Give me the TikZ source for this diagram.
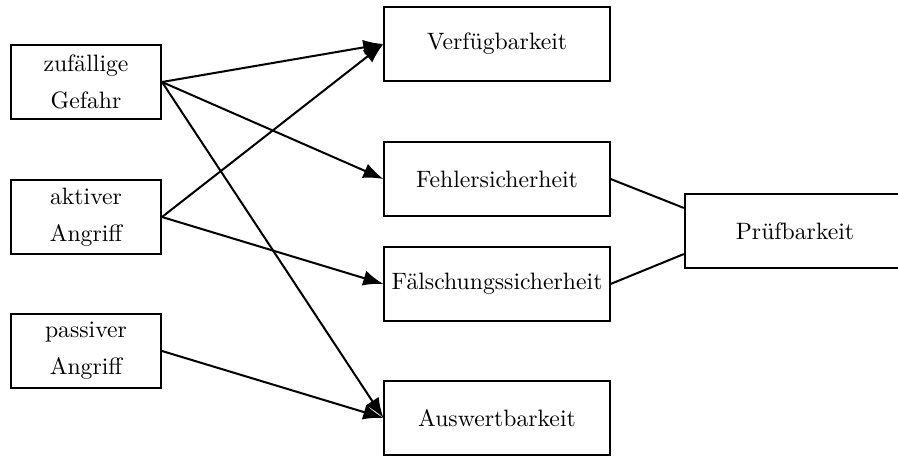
\documentclass[tikz,border=0pt]{standalone}
\usetikzlibrary{arrows.meta,calc}
\begin{document}
\begin{tikzpicture}[x=0.422pt,y=-0.422pt,
  box/.style={draw,line width=0.85pt,minimum width=63.3pt,minimum height=31.6pt,
    inner sep=0pt,align=center},
  wide/.style={box,minimum width=95pt},
  link/.style={line width=0.85pt},
  arr/.style={link,-{Latex[length=8.5pt,width=6.5pt]}}]
\clip (0,0) rectangle (898,456);
% sources
\node[box] (zg) at (86,82) {zuf\"allige\\[3.6pt]Gefahr};
\node[box] (aa) at (86,217) {aktiver\\[3.6pt]Angriff};
\node[box] (pa) at (86,351) {passiver\\[3.6pt]Angriff};
% properties
\node[wide] (vb) at (497,44) {Verf\"ugbarkeit};
\node[wide] (fs) at (497,179) {Fehlersicherheit};
\node[wide] (fa) at (497,284) {F\"alschungssicherheit};
\node[wide] (ab) at (497,418) {Auswertbarkeit};
\node[wide,minimum width=93pt] (pb) at (795,231) {Pr\"ufbarkeit};
% threats to properties
\draw[arr] (zg.east) -- (vb.west);
\draw[arr] (zg.east) -- (fs.west);
\draw[arr] (zg.east) -- (ab.west);
\draw[arr] (aa.east) -- (vb.west);
\draw[arr] (aa.east) -- (fa.west);
\draw[arr] (pa.east) -- (ab.west);
% properties feeding into auditability
\draw[link] (fs.east) -- ($(pb.north west)!0.2!(pb.south west)$);
\draw[link] (fa.east) -- ($(pb.north west)!0.8!(pb.south west)$);
\end{tikzpicture}
\end{document}
